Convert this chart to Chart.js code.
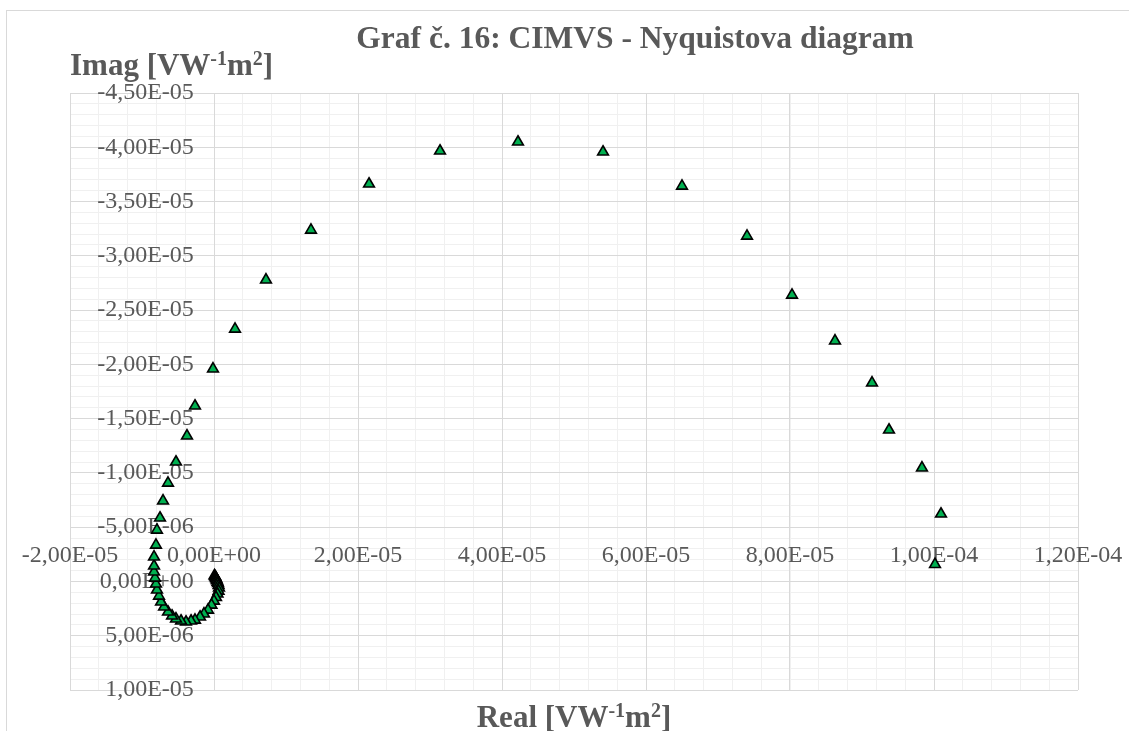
<!DOCTYPE html>
<html>
<head>
<meta charset="utf-8">
<title>Graf č. 16: CIMVS - Nyquistova diagram</title>
<script src="https://cdn.jsdelivr.net/npm/chart.js@4.4.1/dist/chart.umd.min.js"></script>
<style>
  html, body { margin: 0; padding: 0; background: #fff; }
  #wrap { width: 1129px; height: 731px; }
</style>
</head>
<body>
<div id="wrap"><canvas id="nyquist" width="1129" height="731"></canvas></div>
<script>
// values (high frequency near origin -> low frequency at the right)
const realPart = [
  0.07e-6, 0.14e-6, 0.21e-6, 0.28e-6, 0.35e-6, 0.42e-6, 0.49e-6, 0.56e-6, 0.63e-6, 0.69e-6,
  0.63e-6, 0.49e-6, 0.28e-6, 0.0, -0.35e-6, -0.83e-6, -1.39e-6, -1.94e-6, -2.64e-6, -3.19e-6,
  -3.89e-6, -4.58e-6, -5.28e-6, -5.83e-6, -6.39e-6, -6.94e-6, -7.36e-6, -7.64e-6, -7.92e-6, -8.06e-6,
  -8.19e-6, -8.33e-6, -8.33e-6, -8.33e-6, -8.06e-6, -7.92e-6, -7.50e-6, -7.08e-6, -6.39e-6, -5.28e-6,
  -3.75e-6, -2.64e-6, -0.14e-6, 2.92e-6, 7.22e-6, 1.347e-5, 2.153e-5, 3.139e-5, 4.222e-5, 5.403e-5,
  6.500e-5, 7.403e-5, 8.028e-5, 8.625e-5, 9.139e-5, 9.375e-5, 9.833e-5, 1.0097e-4, 1.0014e-4
];
const imagPart = [
  -0.55e-6, -0.46e-6, -0.37e-6, -0.28e-6, -0.18e-6, -0.09e-6, 0.05e-6, 0.18e-6, 0.37e-6, 0.60e-6,
  0.88e-6, 1.15e-6, 1.47e-6, 1.80e-6, 2.17e-6, 2.63e-6, 2.99e-6, 3.27e-6, 3.55e-6, 3.64e-6,
  3.73e-6, 3.64e-6, 3.45e-6, 3.18e-6, 2.81e-6, 2.35e-6, 1.89e-6, 1.34e-6, 0.78e-6, 0.23e-6,
  -0.32e-6, -0.88e-6, -1.43e-6, -2.26e-6, -3.36e-6, -4.74e-6, -5.85e-6, -7.42e-6, -9.07e-6, -1.101e-5,
  -1.341e-5, -1.617e-5, -1.958e-5, -2.326e-5, -2.778e-5, -3.238e-5, -3.662e-5, -3.966e-5, -4.049e-5, -3.957e-5,
  -3.643e-5, -3.182e-5, -2.639e-5, -2.216e-5, -1.829e-5, -1.396e-5, -1.046e-5, -6.22e-6, -1.57e-6
];

const chartTitle = 'Graf č. 16: CIMVS - Nyquistova diagram';
const yTitleParts = [['Imag [VW'], ['-1', true], ['m'], ['2', true], [']']];
const xTitleParts = [['Real [VW'], ['-1', true], ['m'], ['2', true], [']']];

const xRange = { min: -2e-5, max: 1.2e-4, major: 2e-5, minor: 4e-6 };
const yRange = { min: -4.5e-5, max: 1e-5, major: 5e-6, minor: 1e-6 };

const TEXT = '#595959';
const MAJOR = '#d9d9d9';
const MINOR = '#f0f0f0';
const SERIF = "'Liberation Serif', 'Times New Roman', serif";

// Excel-like "0,00E+00"
function sci(v) {
  if (Math.abs(v) < 1e-12) return '0,00E+00';
  const [m, e] = v.toExponential(2).split('e');
  const n = parseInt(e, 10);
  return m.replace('.', ',') + 'E' + (n < 0 ? '-' : '+') + String(Math.abs(n)).padStart(2, '0');
}

// text with superscripts: parts = [[text, isSup], ...]
function drawRich(ctx, parts, x, y, align) {
  const big = 'bold 31px ' + SERIF, small = 'bold 20px ' + SERIF;
  let w = 0;
  parts.forEach(([t, sup]) => { ctx.font = sup ? small : big; w += ctx.measureText(t).width; });
  let cx = align === 'center' ? x - w / 2 : x;
  ctx.textAlign = 'left';
  ctx.textBaseline = 'alphabetic';
  parts.forEach(([t, sup]) => {
    ctx.font = sup ? small : big;
    ctx.fillText(t, cx, sup ? y - 10 : y);
    cx += ctx.measureText(t).width;
  });
}

const decor = {
  id: 'decor',
  beforeDraw(chart) {
    const ctx = chart.ctx;
    ctx.save();
    ctx.fillStyle = '#fff';
    ctx.fillRect(0, 0, chart.width, chart.height);
    ctx.restore();
  },
  afterDraw(chart) {
    const ctx = chart.ctx;
    const a = chart.chartArea;
    ctx.save();
    ctx.strokeStyle = MAJOR;
    ctx.lineWidth = 1;
    ctx.strokeRect(6.5, 10.5, chart.width + 20, chart.height + 20);
    ctx.fillStyle = TEXT;
    ctx.font = 'bold 31.5px ' + SERIF;
    ctx.textAlign = 'center';
    ctx.textBaseline = 'alphabetic';
    ctx.fillText(chartTitle, 635, 48);
    drawRich(ctx, yTitleParts, a.left, 75, 'left');
    drawRich(ctx, xTitleParts, (a.left + a.right) / 2, 727, 'center');
    ctx.restore();
  }
};

const points = realPart.map((x, i) => ({ x, y: imagPart[i] }));

const tickFont = { family: SERIF, size: 24 };

new Chart(document.getElementById('nyquist'), {
  type: 'scatter',
  data: {
    datasets: [{
      label: 'CIMVS',
      data: points,
      pointStyle: 'triangle',
      pointRadius: 6.2,
      pointHoverRadius: 6.2,
      pointBackgroundColor: '#00B050',
      pointBorderColor: '#000',
      pointBorderWidth: 1.6,
      showLine: false
    }]
  },
  options: {
    responsive: false,
    animation: false,
    events: [],
    layout: { padding: { left: 70, top: 93, right: 51, bottom: 41 } },
    plugins: { legend: { display: false }, title: { display: false }, tooltip: { enabled: false } },
    scales: {
      xMinor: {
        type: 'linear', axis: 'x', position: { y: 0 },
        min: xRange.min, max: xRange.max,
        ticks: { display: false, stepSize: xRange.minor, autoSkip: false },
        grid: { color: MINOR, drawTicks: false, z: -2 },
        border: { display: false }
      },
      yMinor: {
        type: 'linear', axis: 'y', position: { x: 0 }, reverse: true,
        min: yRange.min, max: yRange.max,
        ticks: { display: false, stepSize: yRange.minor, autoSkip: false },
        grid: { color: MINOR, drawTicks: false, z: -2 },
        border: { display: false }
      },
      x: {
        type: 'linear', position: { y: 0 },
        min: xRange.min, max: xRange.max,
        ticks: {
          stepSize: xRange.major, autoSkip: false, maxRotation: 0, minRotation: 0,
          padding: -40, color: TEXT, font: tickFont, callback: v => sci(v)
        },
        grid: { color: MAJOR, drawTicks: false },
        border: { display: false }
      },
      y: {
        type: 'linear', position: { x: -2.8e-6 }, reverse: true,
        min: yRange.min, max: yRange.max,
        ticks: {
          stepSize: yRange.major, autoSkip: false, padding: 0,
          color: TEXT, font: tickFont, callback: v => sci(v)
        },
        grid: { color: MAJOR, drawTicks: false },
        border: { display: false }
      }
    }
  },
  plugins: [decor]
});
</script>
</body>
</html>
